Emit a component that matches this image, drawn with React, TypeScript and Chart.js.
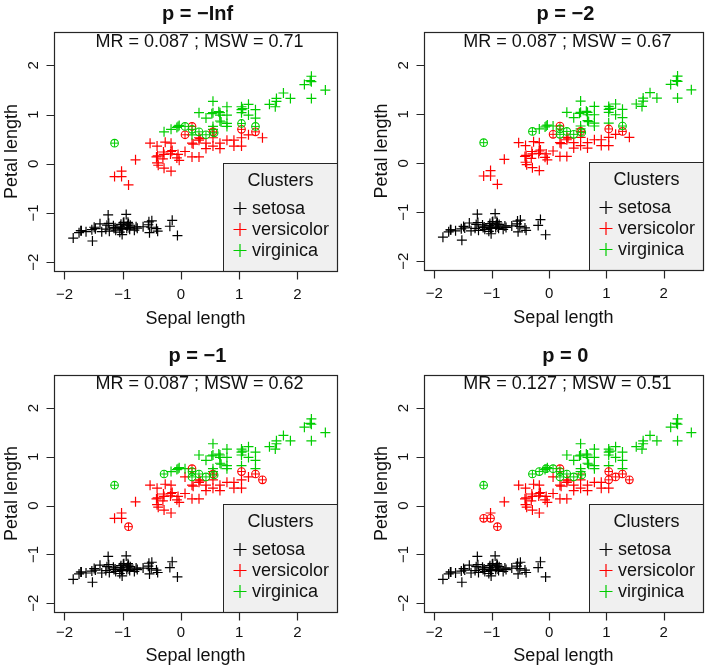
import React, { useEffect, useRef } from "react";
import { Chart, registerables } from "chart.js";

Chart.register(...registerables);

// ---------------- DATA (standardised iris: sepal length / petal length) ----------------
const sepalLength = [
  // setosa
  -0.88, -1.12, -1.36, -1.49, -1.0, -0.55, -1.53, -1.04, -1.72, -1.16,
  -0.51, -1.24, -1.29, -1.85, -0.06, -0.19, -0.54, -0.93, -0.15, -0.89,
  -0.5, -0.92, -1.52, -0.91, -1.25, -1.03, -0.99, -0.77, -0.8, -1.39,
  -1.27, -0.56, -0.75, -0.42, -1.13, -1.01, -0.4, -1.15, -1.75, -0.87,
  -1.05, -1.63, -1.71, -0.98, -0.94, -1.23, -0.9, -1.47, -0.65, -1.02,
  // versicolor
  1.4, 0.67, 1.28, -0.42, 0.79, -0.17, 0.55, -1.14, 0.91, -0.78,
  -1.02, 0.07, 0.19, 0.31, -0.29, 1.04, -0.27, -0.05, 0.43, -0.31,
  0.07, 0.31, 0.55, 0.33, 0.67, 0.91, 1.16, 1.04, 0.19, -0.17,
  -0.41, -0.39, -0.03, 0.19, -0.53, 0.21, 1.04, 0.55, -0.29, -0.4,
  -0.41, 0.31, -0.07, -1.02, -0.3, -0.17, -0.15, 0.43, -0.9, -0.18,
  // virginica
  0.55, -0.05, 1.52, 0.55, 0.79, 2.12, -1.14, 1.76, 1.04, 1.64,
  0.79, 0.67, 1.16, -0.17, -0.03, 0.69, 0.79, 2.24, 2.24, 0.19,
  1.28, -0.29, 2.22, 0.57, 1.04, 1.64, 0.43, 0.31, 0.67, 1.62,
  1.88, 2.48, 0.65, 0.55, 0.31, 2.24, 0.53, 0.67, 0.19, 1.28,
  1.04, 1.28, -0.07, 1.16, 1.06, 1.04, 0.55, 0.79, 0.43, 0.07,
];

const petalLength = [
  // setosa
  -1.33, -1.35, -1.38, -1.29, -1.32, -1.18, -1.34, -1.27, -1.36, -1.26,
  -1.29, -1.21, -1.33, -1.51, -1.46, -1.27, -1.4, -1.31, -1.15, -1.3,
  -1.16, -1.26, -1.57, -1.19, -1.04, -1.23, -1.2, -1.28, -1.35, -1.22,
  -1.25, -1.24, -1.31, -1.32, -1.3, -1.44, -1.37, -1.31, -1.4, -1.25,
  -1.39, -1.38, -1.36, -1.19, -1.03, -1.37, -1.22, -1.32, -1.28, -1.33,
  // versicolor
  0.53, 0.42, 0.65, 0.14, 0.48, 0.42, 0.53, -0.26, 0.48, 0.08,
  -0.15, 0.25, 0.14, 0.53, -0.09, 0.36, 0.44, 0.19, 0.42, 0.1,
  0.59, 0.14, 0.65, 0.51, 0.31, 0.36, 0.59, 0.7, 0.42, -0.15,
  0.02, -0.03, 0.07, 0.76, 0.42, 0.4, 0.53, 0.36, 0.19, 0.16,
  0.36, 0.48, 0.12, -0.26, 0.24, 0.25, 0.27, 0.31, -0.43, 0.2,
  // virginica
  1.27, 0.76, 1.21, 1.04, 1.16, 1.61, 0.42, 1.44, 1.16, 1.33,
  0.76, 0.87, 0.99, 0.7, 0.78, 0.85, 0.99, 1.67, 1.78, 0.7,
  1.1, 0.65, 1.69, 0.63, 1.1, 1.27, 0.59, 0.65, 1.04, 1.16,
  1.33, 1.5, 1.06, 0.76, 1.04, 1.33, 1.02, 0.99, 0.59, 0.93,
  1.04, 0.76, 0.74, 1.21, 1.12, 0.82, 0.7, 0.82, 0.93, 0.76,
];

const speciesNames = ["setosa", "versicolor", "virginica"];
const speciesSize = 50;

const panelTitles = ["p = \u2212Inf", "p = \u22122", "p = \u22121", "p = 0"];
const mrValues = ["0.087", "0.087", "0.087", "0.127"];
const mswValues = ["0.71", "0.67", "0.62", "0.51"];

// observation numbers (1-based) that are misclassified in each panel
const misclassifiedInf = [107, 150, 120, 128, 127, 124, 142, 146, 71, 84, 73, 78, 53];
const misclassifiedM2 = [107, 122, 120, 128, 127, 124, 142, 139, 71, 84, 73, 78, 53];
const misclassifiedM1 = [107, 122, 128, 120, 127, 124, 139, 99, 84, 73, 78, 53, 51];
const misclassifiedP0 = [107, 122, 114, 150, 102, 139, 128, 127, 124, 120, 58, 94, 99, 84, 78, 87, 77, 53, 51];
const misclassified = [misclassifiedInf, misclassifiedM2, misclassifiedM1, misclassifiedP0];

const xTicks = [-2, -1, 0, 1, 2];
const yTicks = [-2, -1, 0, 1, 2];
const axisMin = -2.18;
const axisMax = 2.68;

// ---------------- STYLE / LAYOUT ----------------
const COLORS = ["#000000", "#FF0000", "#00CD00"];
const FONT = '"Liberation Sans", Arimo, Arial, Helvetica, sans-serif';
const INK = "#262626";

const LAYOUT = [
  { left: 0, top: 0, w: 354, h: 334, pad: { left: 54, right: 17, top: 32, bottom: 63 }, tl: 27, xt: 52, mr: 14.5, ti: 13 },
  { left: 354, top: 0, w: 355, h: 334, pad: { left: 70, right: 2, top: 32, bottom: 64 }, tl: 27, xt: 52, mr: 14.5, ti: 13 },
  { left: 0, top: 334, w: 354, h: 334, pad: { left: 54, right: 17, top: 41, bottom: 56 }, tl: 24.5, xt: 48, mr: 13, ti: 14 },
  { left: 354, top: 334, w: 355, h: 334, pad: { left: 70, right: 2, top: 41, bottom: 56 }, tl: 24.5, xt: 48, mr: 13, ti: 14 },
];

const fmt = (v: number) => (v < 0 ? "\u2212" + Math.abs(v) : String(v));

function makeDecor(k: number) {
  const g = LAYOUT[k];
  return {
    id: "rDecor" + k,
    afterDatasetsDraw(chart: any) {
      const { ctx, chartArea: a, scales } = chart;
      const xs = scales.x;
      const ys = scales.y;
      const L = Math.round(a.left) + 0.5;
      const T = Math.round(a.top) + 0.5;
      const R = Math.round(a.right) + 0.5;
      const B = Math.round(a.bottom) + 0.5;
      const cx = (a.left + a.right) / 2;
      const cy = (a.top + a.bottom) / 2;
      ctx.save();
      ctx.strokeStyle = INK;
      ctx.fillStyle = INK;
      ctx.lineWidth = 1;

      // legend box
      const lw = 114;
      const lh = 108;
      const lx = R - lw;
      const ly = B - lh;
      ctx.fillStyle = "#F0F0F0";
      ctx.fillRect(lx, ly, lw, lh);
      ctx.strokeRect(lx, ly, lw, lh);
      ctx.fillStyle = "#111";
      ctx.font = `18px ${FONT}`;
      ctx.textAlign = "center";
      ctx.textBaseline = "alphabetic";
      ctx.fillText("Clusters", lx + lw / 2, ly + 22);
      speciesNames.forEach((name, s) => {
        const by = ly + 50 + 21 * s;
        const px = lx + 16.5;
        const py = Math.round(by - 6) + 0.5;
        ctx.strokeStyle = COLORS[s];
        ctx.lineWidth = 1.2;
        ctx.beginPath();
        ctx.moveTo(px - 6.5, py);
        ctx.lineTo(px + 6.5, py);
        ctx.moveTo(px, py - 6.5);
        ctx.lineTo(px, py + 6.5);
        ctx.stroke();
        ctx.fillStyle = "#111";
        ctx.textAlign = "left";
        ctx.fillText(name, lx + 28.5, by);
      });

      // plot box
      ctx.lineWidth = 1.2;
      ctx.strokeStyle = INK;
      ctx.strokeRect(L, T, R - L, B - T);

      // x ticks
      ctx.beginPath();
      xTicks.forEach((v) => {
        const px = Math.round(xs.getPixelForValue(v)) + 0.5;
        ctx.moveTo(px, B);
        ctx.lineTo(px, B + 8);
      });
      // y ticks
      yTicks.forEach((v) => {
        const py = Math.round(ys.getPixelForValue(v)) + 0.5;
        ctx.moveTo(L, py);
        ctx.lineTo(L - 8, py);
      });
      ctx.stroke();

      ctx.fillStyle = "#111";
      ctx.font = `15px ${FONT}`;
      ctx.textAlign = "center";
      xTicks.forEach((v) => {
        ctx.fillText(fmt(v), xs.getPixelForValue(v), B + g.tl);
      });
      yTicks.forEach((v) => {
        ctx.save();
        ctx.translate(L - 16.5, ys.getPixelForValue(v));
        ctx.rotate(-Math.PI / 2);
        ctx.fillText(fmt(v), 0, 0);
        ctx.restore();
      });

      // axis titles
      ctx.font = `18px ${FONT}`;
      ctx.fillText("Sepal length", cx, B + g.xt);
      ctx.save();
      ctx.translate(L - 38, cy);
      ctx.rotate(-Math.PI / 2);
      ctx.fillText("Petal length", 0, 0);
      ctx.restore();

      // main title
      ctx.font = `bold 20px ${FONT}`;
      ctx.fillText(panelTitles[k], cx + 2, T - g.ti);

      // MR / MSW text
      ctx.font = `18px ${FONT}`;
      ctx.fillText(`MR = ${mrValues[k]} ; MSW = ${mswValues[k]}`, cx + 4, T + g.mr);
      ctx.restore();
    },
  };
}

function buildDatasets(k: number) {
  const miss = new Set(misclassified[k].map((n) => n - 1));
  const normal: any[] = [];
  const circled: any[] = [];
  speciesNames.forEach((name, s) => {
    const ok: { x: number; y: number }[] = [];
    const bad: { x: number; y: number }[] = [];
    for (let i = s * speciesSize; i < (s + 1) * speciesSize; i++) {
      const pt = { x: sepalLength[i], y: petalLength[i] };
      (miss.has(i) ? bad : ok).push(pt);
    }
    normal.unshift({
      label: name,
      data: ok,
      pointStyle: "cross",
      radius: 5,
      borderWidth: 1.2,
      borderColor: COLORS[s],
      backgroundColor: COLORS[s],
    });
    if (bad.length) {
      circled.unshift(
        {
          label: name + " (misclassified)",
          data: bad,
          pointStyle: "circle",
          radius: 3.8,
          borderWidth: 1.1,
          borderColor: COLORS[s],
          backgroundColor: "rgba(0,0,0,0)",
        },
        {
          label: name + " (misclassified cross)",
          data: bad,
          pointStyle: "cross",
          radius: 3.8,
          borderWidth: 1,
          borderColor: COLORS[s],
          backgroundColor: COLORS[s],
        }
      );
    }
  });
  return [...circled, ...normal];
}

export default function App() {
  const refs = useRef<(HTMLCanvasElement | null)[]>([]);

  useEffect(() => {
    const charts = LAYOUT.map((g, k) => {
      const canvas = refs.current[k]!;
      return new Chart(canvas, {
        type: "scatter",
        data: { datasets: buildDatasets(k) as any },
        options: {
          animation: false,
          responsive: false,
          devicePixelRatio: 1,
          events: [],
          layout: { padding: g.pad },
          plugins: { legend: { display: false }, tooltip: { enabled: false }, title: { display: false } },
          scales: {
            x: { type: "linear", min: axisMin, max: axisMax, display: false },
            y: { type: "linear", min: axisMin, max: axisMax, display: false },
          },
        },
        plugins: [makeDecor(k)],
      } as any);
    });
    return () => charts.forEach((c) => c.destroy());
  }, []);

  return (
    <div style={{ position: "absolute", left: 0, top: 0, width: 709, height: 668, background: "#ffffff" }}>
      {LAYOUT.map((g, k) => (
        <canvas
          key={k}
          ref={(el) => {
            refs.current[k] = el;
          }}
          width={g.w}
          height={g.h}
          style={{ position: "absolute", left: g.left, top: g.top, width: g.w, height: g.h }}
        />
      ))}
    </div>
  );
}
